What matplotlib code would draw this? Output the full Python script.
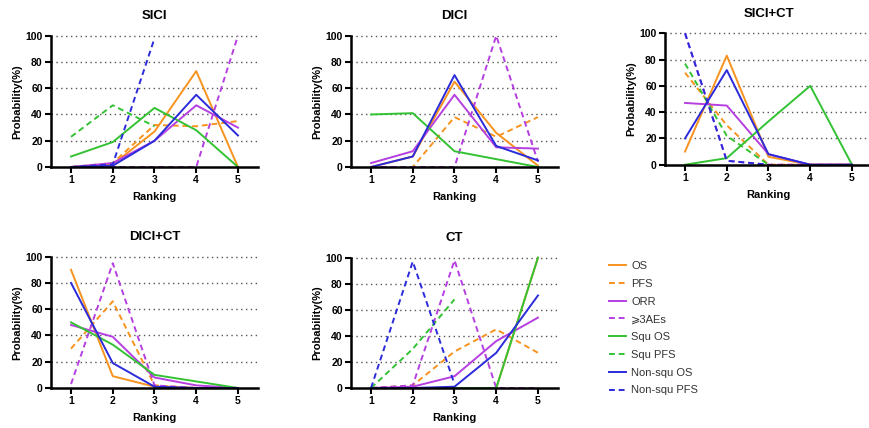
import numpy as np
import matplotlib.pyplot as plt

plt.rcParams['font.family'] = ['Liberation Sans', 'DejaVu Sans']

ranks = [1, 2, 3, 4, 5]
titles = ['SICI', 'DICI', 'SICI+CT', 'DICI+CT', 'CT']
labels = ['OS', 'PFS', 'ORR', '⩾3AEs', 'Squ OS', 'Squ PFS', 'Non-squ OS', 'Non-squ PFS']

# probability (%) of each rank, per treatment; None = not in that network
os_ = [[0, 2, 27, 73, 0], [0, 8, 65, 26, 1], [10, 83, 6, 0, 0], [90, 9, 1, 0, 0], [0, 0, 0, 0, 100]]
pfs = [[0, 3, 32, 31, 35], [0, 0, 38, 23, 38], [70, 30, 0, 0, 0], [30, 66, 2, 0, 0], [0, 2, 28, 45, 27]]
orr = [[0, 3, 20, 47, 30], [3, 12, 55, 15, 14], [47, 45, 8, 0, 0], [48, 39, 8, 2, 0], [0, 1, 9, 36, 54]]
aes = [[0, 0, 0, 0, 100], [0, 0, 0, 100, 4], [100, 3, 0, 0, 0], [3, 95, 2, 0, 0], [0, 2, 98, 0, 0]]
squ_os = [[8, 19, 45, 28, 0], [40, 41, 12, 6, 0], [0, 5, 33, 60, 0], [50, 33, 10, 5, 0], [0, 0, 0, 0, 100]]
squ_pfs = [[23, 47, 31], None, [77, 22, 0], None, [0, 30, 68]]
nsq_os = [[0, 1, 20, 55, 24], [0, 8, 70, 16, 5], [20, 72, 8, 0, 0], [80, 19, 1, 0, 0], [0, 0, 1, 27, 71]]
nsq_pfs = [[0, 2, 98], None, [100, 3, 0], None, [0, 97, 3]]

series = [os_, pfs, orr, aes, squ_os, squ_pfs, nsq_os, nsq_pfs]
colors = ['#F7931E', '#F7931E', '#B53FE0', '#B53FE0', '#33C233', '#33C233', '#2B2BDB', '#2B2BDB']
styles = ['-', (0, (3, 2)), '-', (0, (3, 2)), '-', (0, (3, 2)), '-', (0, (3, 2))]

# axes rects in pixels: left spine x, y of 0, y of 100
rects = [(51, 167, 35.7), (351, 167, 35.7), (665, 164.7, 33.3), (51, 388, 256.7), (351, 388, 257.7)]

W, H = 870, 428
fig = plt.figure(figsize=(W / 100, H / 100), dpi=100)

handles = []
for p in range(5):
    x0, y0, y1 = rects[p]
    ax = fig.add_axes([x0 / W, (H - y0) / H, 207 / W, (y0 - y1) / H])
    for yv in [20, 40, 60, 80, 100]:
        ax.axhline(yv, color='#555555', ls=(0, (1, 2.5)), lw=1, zorder=0, clip_on=False)
    for s in range(8):
        d = series[s][p]
        if d is None:
            continue
        ln, = ax.plot(ranks[:len(d)], d, color=colors[s], ls=styles[s], lw=1.4, clip_on=False)
    ax.set_xlim(0.52, 5.48)
    ax.set_ylim(0, 100)
    ax.set_xticks(ranks)
    ax.set_yticks([0, 20, 40, 60, 80, 100])
    for sp in ['top', 'right']:
        ax.spines[sp].set_visible(False)
    for sp in ['left', 'bottom']:
        ax.spines[sp].set_linewidth(1.8)
    ax.tick_params(width=1.5, length=4, labelsize=7.5, pad=2)
    for t in ax.get_xticklabels() + ax.get_yticklabels():
        t.set_fontweight('bold')
    ax.set_xlabel('Ranking', fontsize=8, fontweight='bold', labelpad=5)
    ax.set_ylabel('Probability(%)', fontsize=8, fontweight='bold', labelpad=2)
    ax.set_title(titles[p], fontsize=9.5, fontweight='bold', pad=12)

for s in range(8):
    handles.append(plt.Line2D([], [], color=colors[s], ls=styles[s], lw=1.4))
fig.legend(handles, labels, loc='upper left', bbox_to_anchor=(599 / W, 1 - 251 / H),
           frameon=False, fontsize=8, handlelength=1.5, handletextpad=0.5,
           labelspacing=0.70, labelcolor='#333333')

fig.savefig('out.png', dpi=100)
